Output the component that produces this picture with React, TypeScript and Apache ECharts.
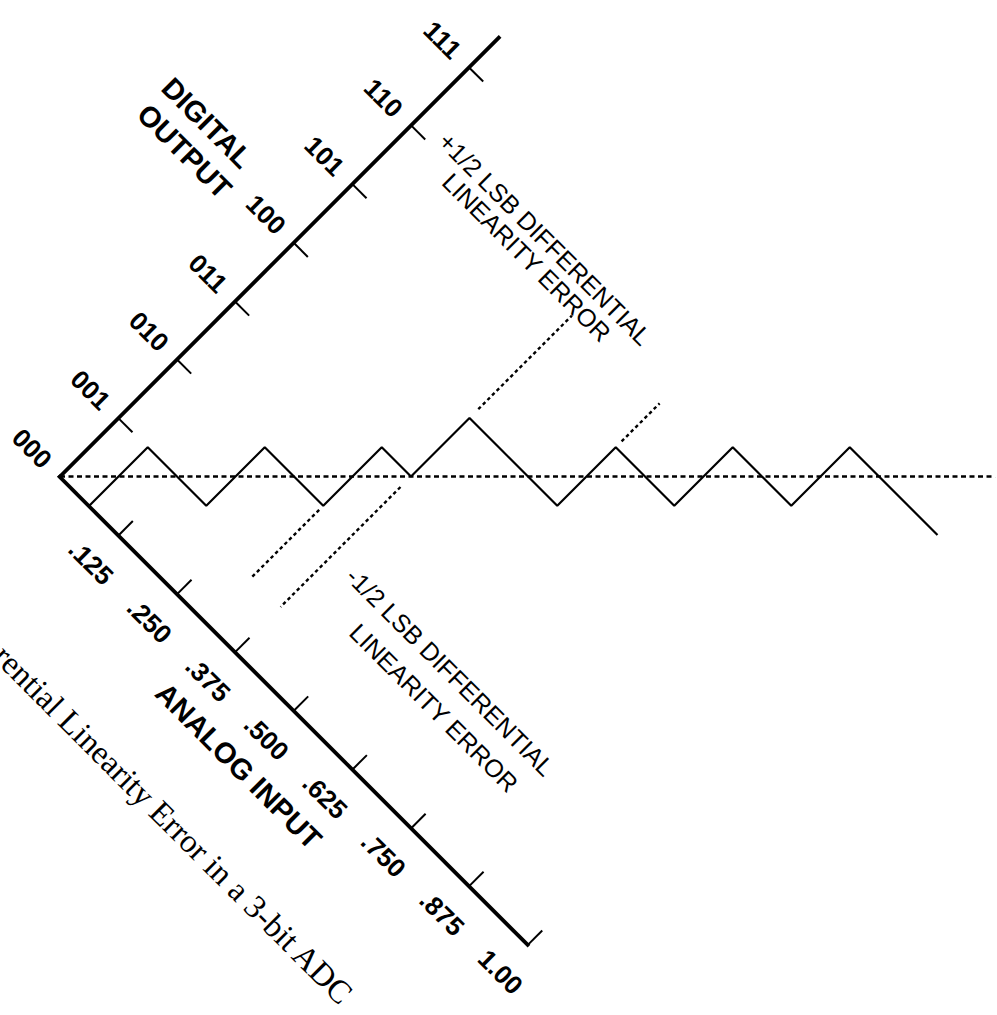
import React, { useEffect, useRef } from 'react';
import * as echarts from 'echarts';

// ---- data ----
const inputTicks = [0.125, 0.25, 0.375, 0.5, 0.625, 0.75, 0.875, 1.0];
const inputLabels = ['.125', '.250', '.375', '.500', '.625', '.750', '.875', '1.00'];
const outputCodes = [0, 1, 2, 3, 4, 5, 6, 7];
const outputLabels = ['000', '001', '010', '011', '100', '101', '110', '111'];
const outputTickCodes = [1, 2, 3, 4, 5, 6, 7];
// analog input at which the output steps from code k to code k+1
const transitions = [0.0625, 0.1875, 0.3125, 0.375, 0.5625, 0.6875, 0.8125];
const inputMax = 1.0;
const outputMax = 7.5;
const idealLine = [
  [0, 0],
  [1, 8],
];
// [input, from code, to code]
const plusMarkers = [
  [0.375, 4.15, 5.75],
  [0.5625, 5.1, 5.75],
];
const minusMarkers = [
  [0.3125, 1.93, 0.77],
  [0.375, 2.82, 0.77],
];

// ---- layout (chart drawn unrotated, then the whole div rotated 45deg) ----
const LSB_PX = 58.5 * Math.SQRT2;
const GRID_LEFT = 230;
const GRID_TOP = 40;
const GRID_W = 8 * LSB_PX;
const GRID_H = outputMax * LSB_PX;
const OX = GRID_LEFT;
const OY = GRID_TOP + GRID_H;
const DIV_W = 1000;
const DIV_H = 900;
const PAGE_OX = 60;
const PAGE_OY = 476;

const SANS = '"Liberation Sans", Arial, Helvetica, sans-serif';
const SERIF = '"Liberation Serif", "Times New Roman", serif';

function buildStaircase() {
  const pts: number[][] = [[transitions[0], 0]];
  for (let k = 0; k < transitions.length; k++) {
    const next = k + 1 < transitions.length ? transitions[k + 1] : inputMax;
    pts.push([transitions[k], k + 1]);
    pts.push([next, k + 1]);
  }
  return pts;
}

function markerSeries(m: number[]) {
  return {
    type: 'line',
    data: [
      [m[0], m[1]],
      [m[0], m[2]],
    ],
    symbol: 'none',
    clip: false,
    silent: true,
    lineStyle: { color: '#000', width: 2.4, type: [3.5, 3] },
  };
}

export default function App() {
  const ref = useRef<HTMLDivElement>(null);
  useEffect(() => {
    if (!ref.current) return;
    const chart = echarts.init(ref.current, undefined, { renderer: 'svg' });
    const textStyle = (size: number, bold: boolean) => ({
      fill: '#000',
      fontSize: size,
      fontWeight: bold ? 'bold' : 'normal',
      fontFamily: SANS,
      align: 'center',
      verticalAlign: 'middle',
    });
    chart.setOption({
      animation: false,
      backgroundColor: 'transparent',
      grid: {
        left: GRID_LEFT,
        top: GRID_TOP,
        width: GRID_W,
        height: GRID_H,
        containLabel: false,
        outerBoundsMode: 'none',
      },
      xAxis: {
        type: 'value',
        min: 0,
        max: inputMax,
        interval: 0.125,
        name: 'ANALOG INPUT',
        nameLocation: 'middle',
        nameGap: 64,
        nameTextStyle: { color: '#000', fontSize: 29, fontWeight: 'bold', fontFamily: SANS },
        axisLine: { show: true, lineStyle: { color: '#000', width: 3.8, cap: 'square' } },
        axisTick: {
          show: true,
          inside: true,
          length: 20,
          customValues: inputTicks,
          lineStyle: { color: '#000', width: 2 },
        },
        axisLabel: {
          show: true,
          customValues: inputTicks,
          margin: 26,
          color: '#000',
          fontSize: 26,
          fontWeight: 'bold',
          fontFamily: SANS,
          formatter: (v: number) => {
            const i = inputTicks.findIndex((t) => Math.abs(t - v) < 1e-9);
            return i >= 0 ? inputLabels[i] : '';
          },
        },
        splitLine: { show: false },
      },
      yAxis: {
        type: 'value',
        min: 0,
        max: outputMax,
        interval: 1,
        axisLine: { show: true, lineStyle: { color: '#000', width: 3.8, cap: 'square' } },
        axisTick: {
          show: true,
          inside: true,
          length: 20,
          customValues: outputTickCodes,
          lineStyle: { color: '#000', width: 2 },
        },
        axisLabel: {
          show: true,
          customValues: outputCodes,
          margin: 18,
          color: '#000',
          fontSize: 26,
          fontWeight: 'bold',
          fontFamily: SANS,
          formatter: (v: number) => {
            const i = outputCodes.findIndex((c) => Math.abs(c - v) < 1e-9);
            return i >= 0 ? outputLabels[i] : '';
          },
        },
        splitLine: { show: false },
      },
      series: [
        {
          type: 'line',
          data: idealLine,
          symbol: 'none',
          clip: false,
          silent: true,
          lineStyle: { color: '#000', width: 2.6, type: [5, 3.5] },
        },
        {
          type: 'line',
          data: buildStaircase(),
          symbol: 'none',
          silent: true,
          lineStyle: { color: '#000', width: 2.2 },
        },
        ...plusMarkers.map(markerSeries),
        ...minusMarkers.map(markerSeries),
      ],
      graphic: [
        { type: 'text', x: OX - 146, y: OY - 354, style: { text: 'DIGITAL', ...textStyle(29, true) } },
        { type: 'text', x: OX - 142, y: OY - 318, style: { text: 'OUTPUT', ...textStyle(29, true) } },
        {
          type: 'text',
          x: OX + 175,
          y: OY - 511,
          style: { text: '+1/2 LSB DIFFERENTIAL', ...textStyle(25, false) },
        },
        { type: 'text', x: OX + 175, y: OY - 485, style: { text: 'LINEARITY ERROR', ...textStyle(25, false) } },
        {
          type: 'text',
          x: OX + 414,
          y: OY - 138,
          style: { text: '-1/2 LSB DIFFERENTIAL', ...textStyle(25, false) },
        },
        { type: 'text', x: OX + 428, y: OY - 101, style: { text: 'LINEARITY ERROR', ...textStyle(25, false) } },
        {
          type: 'text',
          x: OX + 572,
          y: OY + 166,
          style: {
            text: 'Differential Linearity Error in a 3-bit ADC',
            fill: '#000',
            fontSize: 32.8,
            fontFamily: SERIF,
            align: 'right',
            verticalAlign: 'middle',
          },
        },
      ],
    });
    return () => chart.dispose();
  }, []);

  return (
    <div
      style={{
        position: 'fixed',
        left: 0,
        top: 0,
        width: '100vw',
        height: '100vh',
        overflow: 'hidden',
        background: '#fff',
      }}
    >
      <div
        ref={ref}
        style={{
          position: 'absolute',
          left: PAGE_OX - OX,
          top: PAGE_OY - OY,
          width: DIV_W,
          height: DIV_H,
          transformOrigin: `${OX}px ${OY}px`,
          transform: 'rotate(45deg)',
        }}
      />
    </div>
  );
}
